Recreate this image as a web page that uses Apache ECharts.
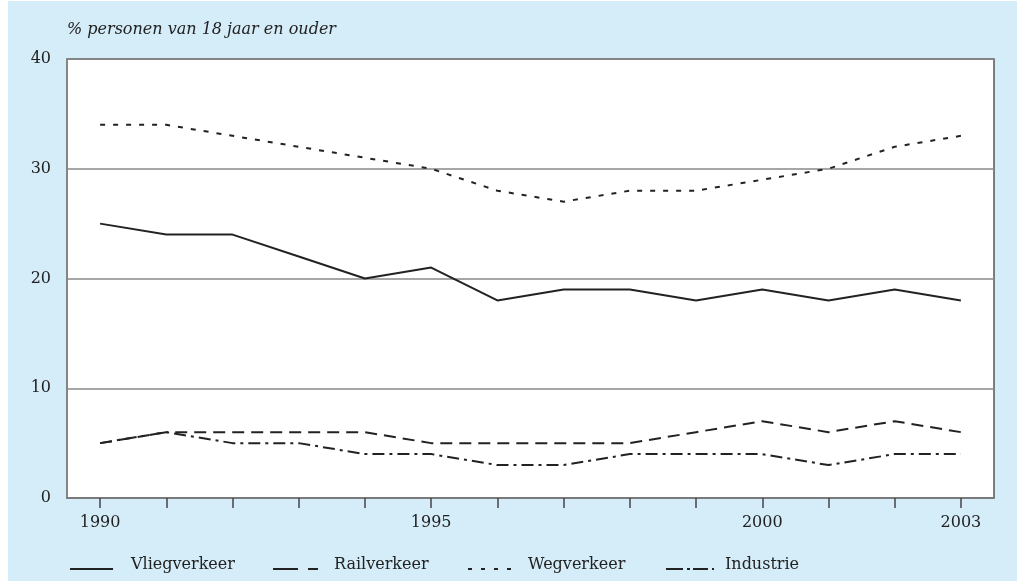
<!DOCTYPE html>
<html>
<head>
<meta charset="utf-8">
<script src="https://cdn.jsdelivr.net/npm/echarts@6/dist/echarts.min.js"></script>
<style>
  html, body { margin: 0; padding: 0; background: #ffffff; }
  #chart { width: 1017px; height: 583px; }
</style>
</head>
<body>
<div id="chart"></div>
<script>
// Hinder door geluid naar bron, % personen van 18 jaar en ouder
const years = ['1990','1991','1992','1993','1994','1995','1996','1997','1998','1999','2000','2001','2002','2003'];
const labelledYears = ['1990','1995','2000','2003'];
const yTicks = [0, 10, 20, 30, 40];

const vliegverkeer = [25, 24, 24, 22, 20, 21, 18, 19, 19, 18, 19, 18, 19, 18];
const railverkeer  = [5, 6, 6, 6, 6, 5, 5, 5, 5, 6, 7, 6, 7, 6];
const wegverkeer   = [34, 34, 33, 32, 31, 30, 28, 27, 28, 28, 29, 30, 32, 33];
const industrie    = [5, 6, 5, 5, 4, 4, 3, 3, 4, 4, 4, 3, 4, 4];

const FONT = 'DejaVu Serif';
const INK = '#222222';

const chart = echarts.init(document.getElementById('chart'), null, { renderer: 'canvas' });

function lineSeries(name, data, dash) {
  return {
    name: name,
    type: 'line',
    data: data,
    symbol: 'none',
    showSymbol: false,
    z: 3,
    lineStyle: { color: INK, width: 2, type: dash, cap: 'butt' },
    itemStyle: { color: INK }
  };
}

// one legend per series so each key sample can carry its own dash rhythm;
// the sample sits low, like an underline, beside the label
function legendAt(name, left, width, dash, textPad) {
  return {
    data: [name],
    left: left,
    top: 557,
    padding: 0,
    itemWidth: width,
    itemHeight: 30,
    itemStyle: { color: 'transparent', borderWidth: 0, opacity: 0 },
    lineStyle: { color: INK, width: 2, type: dash, cap: 'butt' },
    formatter: '{t|{name}}',
    textStyle: {
      fontFamily: FONT, fontSize: 16, color: '#222', padding: [0, 0, 0, textPad],
      rich: { t: { fontFamily: FONT, fontSize: 16, color: '#222', lineHeight: 24, verticalAlign: 'top' } }
    }
  };
}

chart.setOption({
  animation: false,
  backgroundColor: '#ffffff',
  graphic: [
    { type: 'rect', z: -10, shape: { x: 8, y: 1, width: 1009, height: 580 }, style: { fill: '#d5ecf9' } }
  ],
  title: {
    text: '% personen van 18 jaar en ouder',
    left: 67,
    top: 22,
    padding: 0,
    textStyle: { fontFamily: FONT, fontStyle: 'italic', fontWeight: 'normal', fontSize: 16, color: '#222' }
  },
  legend: [
    legendAt('Vliegverkeer', 69, 43, 'solid', 13),
    legendAt('Railverkeer', 272, 45, [25, 10], 11),
    legendAt('Wegverkeer', 467, 45, [4, 9], 10),
    legendAt('Industrie', 665, 48, [17, 4, 3, 3, 15, 4, 3, 10], 6)
  ],
  grid: {
    left: 67, right: 23, top: 59, bottom: 85,
    show: true,
    backgroundColor: '#ffffff',
    borderColor: '#555555',
    borderWidth: 1.5
  },
  xAxis: {
    type: 'category',
    data: years,
    boundaryGap: true,
    axisLine: { show: true, lineStyle: { color: '#777', width: 1.5 } },
    axisTick: { show: true, alignWithLabel: true, interval: 0, length: 10, inside: false, lineStyle: { color: '#444', width: 1.5 } },
    axisLabel: {
      interval: 0,
      margin: 17,
      fontFamily: FONT, fontSize: 16, color: '#222',
      formatter: function (v) { return labelledYears.indexOf(v) >= 0 ? v : ''; }
    },
    splitLine: { show: false }
  },
  yAxis: {
    type: 'value',
    min: yTicks[0],
    max: yTicks[yTicks.length - 1],
    interval: 10,
    axisLine: { show: true, lineStyle: { color: '#888', width: 1.5 } },
    axisTick: { show: false },
    axisLabel: { margin: 16, fontFamily: FONT, fontSize: 16, color: '#222' },
    splitLine: { show: true, lineStyle: { color: '#888', width: 1.5 } }
  },
  series: [
    lineSeries('Vliegverkeer', vliegverkeer, 'solid'),
    lineSeries('Railverkeer', railverkeer, [12, 7]),
    lineSeries('Wegverkeer', wegverkeer, [5, 8]),
    lineSeries('Industrie', industrie, [12, 5, 3, 5])
  ]
});
</script>
</body>
</html>
